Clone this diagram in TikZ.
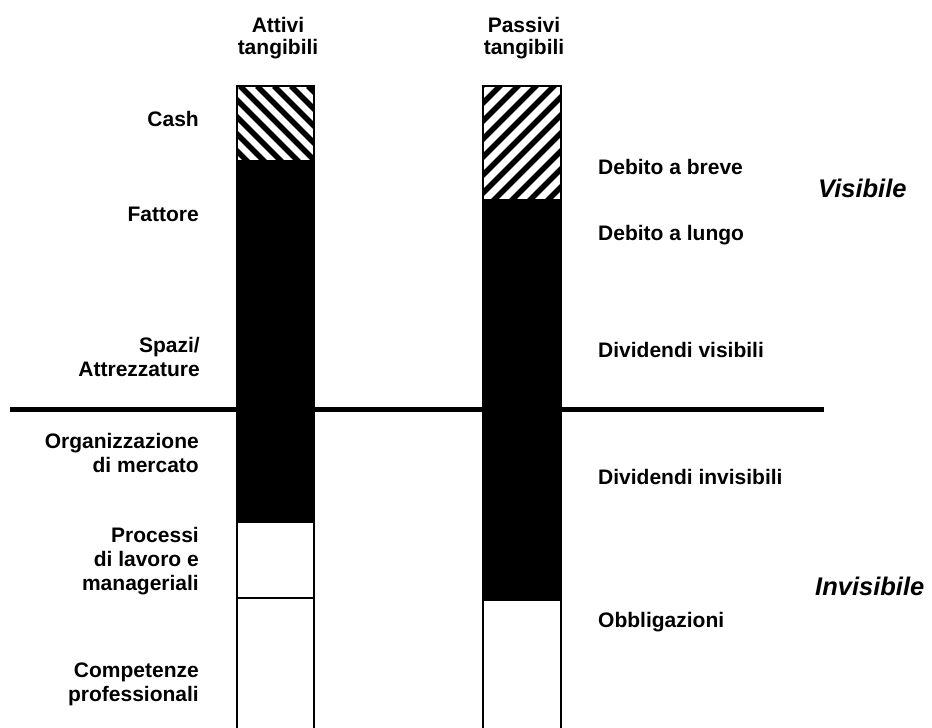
\documentclass[tikz,border=0pt]{standalone}
\usepackage{fontspec}
\setmainfont{Liberation Sans}
\begin{document}
\begin{tikzpicture}[x=1pt,y=-1pt,
  lbl/.style={font=\fontsize{21}{24}\selectfont\bfseries, inner sep=0pt},
  leftlbl/.style={lbl, align=right},
  rightlbl/.style={lbl, align=left, anchor=base west},
  head/.style={font=\fontsize{21}{22}\selectfont\bfseries, inner sep=0pt, align=center, anchor=north},
  zone/.style={font=\fontsize{25.5}{30}\selectfont\bfseries\itshape, inner sep=0pt, anchor=base west},
  frame/.style={line width=2.5pt, line cap=butt},
  stripe/.style={line width=5.5pt}
]
\useasboundingbox (0,0) rectangle (932,728);

% --- left column: tangible assets ---
\begin{scope}
  \clip (237,86) rectangle (314,161);
  \foreach \s in {-100,-83,...,320}
    \draw[stripe] (\s,86) -- ++(100,100);
\end{scope}
\fill (237,161) rectangle (314,523);
\draw[frame] (237,729) -- (237,86) -- (314,86) -- (314,729);
\draw[frame] (237,161) -- (314,161);
\draw[frame] (237,598) -- (314,598);

% --- right column: tangible liabilities ---
\begin{scope}
  \clip (483,86) rectangle (561,200);
  \foreach \s in {340,358,...,580}
    \draw[stripe] (\s,210) -- ++(140,-140);
\end{scope}
\fill (483,200) rectangle (561,601);
\draw[frame] (483,729) -- (483,86) -- (561,86) -- (561,729);
\draw[frame] (483,200) -- (561,200);

% --- visible / invisible boundary ---
\draw[line width=5pt] (10,409) -- (824,409);

% --- column headings ---
\node[head] (hA) at (278,17) {Attivi\\tangibili};
\node[head] (hP) at (524,17) {Passivi\\tangibili};

% --- asset labels ---
\node[lbl, anchor=base east] (cash) at (199,126) {Cash};
\node[lbl, anchor=base east] (fatt) at (199,221) {Fattore};
\node[leftlbl, anchor=north east] (spazi) at (200,337) {Spazi/\\Attrezzature};
\node[leftlbl, anchor=north east] (org) at (199,433) {Organizzazione\\di mercato};
\node[leftlbl, anchor=north east] (proc) at (199,527) {Processi\\di lavoro e\\manageriali};
\node[leftlbl, anchor=north east] (comp) at (199,663) {Competenze\\professionali};

% --- liability labels ---
\node[rightlbl] (breve) at (598,174) {Debito a breve};
\node[rightlbl] (lungo) at (598,240) {Debito a lungo};
\node[rightlbl] (divv) at (598,357) {Dividendi visibili};
\node[rightlbl] (divi) at (598,484) {Dividendi invisibili};
\node[rightlbl] (obbl) at (598,627) {Obbligazioni};

% --- zone labels ---
\node[zone] (vis) at (818,197) {Visibile};
\node[zone] (invis) at (815,595) {Invisibile};
\end{tikzpicture}
\end{document}
